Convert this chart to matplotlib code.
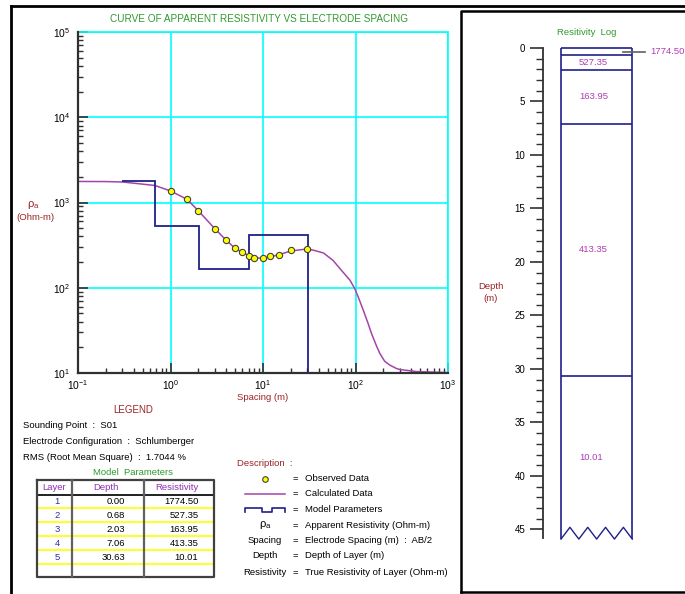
import matplotlib
matplotlib.use("Agg")
import matplotlib.pyplot as plt
import numpy as np
from matplotlib.ticker import LogLocator, NullFormatter, MultipleLocator

plt.rcParams["font.family"] = ["Liberation Sans", "DejaVu Sans"]

# observed sounding data (AB/2 in m, apparent resistivity in ohm-m)
spacing_obs = [1, 1.5, 2, 3, 4, 5, 6, 7, 8, 10, 12, 15, 20, 30]
rho_obs = [1360, 1094, 800, 495, 361, 290, 260, 238, 222, 222, 233, 245, 278, 283]

# calculated curve
spacing_calc = [0.1, 0.2, 0.3, 0.43, 0.68, 1.0, 1.5, 2, 3, 4, 5, 6, 7, 8, 10,
                12, 15, 20, 30, 35, 45, 57, 73, 87, 98, 107, 121, 137, 149,
                168, 183, 207, 234, 277, 300, 455, 1000]
rho_calc = [1765, 1760, 1740, 1671, 1583, 1365, 1094, 800, 495, 361, 290, 260,
            238, 224, 222, 230, 245, 270, 285, 276, 256, 210, 153, 123, 98,
            78, 55, 38, 29, 21, 17, 13.7, 12.4, 11.3, 11.0, 10.4, 10.1]

# model parameters
layer_no = [1, 2, 3, 4, 5]
layer_depth = [0.00, 0.68, 2.03, 7.06, 30.63]
layer_res = [1774.50, 527.35, 163.95, 413.35, 10.01]
model_start = 0.3
spacing_max = 1000
log_bottom = 45.9

sounding_point = "S01"
configuration = "Schlumberger"
rms = 1.7044

W, H = 685, 594
GREEN = "#2f9a2f"
DARKRED = "#9b2323"
NAVY = "#202088"
PURPLE = "#a345a8"
MAGENTA = "#b03cb4"
CYAN = "#00ffff"
DARK = "#303030"


def box(l, t, r, b):
    return [l / W, 1 - b / H, (r - l) / W, (b - t) / H]


fig = plt.figure(figsize=(W / 100, H / 100), dpi=100)

# ---- sounding curve ----
ax = fig.add_axes(box(78, 32, 448, 373))
ax.set_xscale("log")
ax.set_yscale("log")
ax.set_xlim(0.1, spacing_max)
ax.set_ylim(10, 1e5)
ax.grid(True, which="major", color=CYAN, lw=1.2)
ax.grid(False, which="minor")
for s in ["top", "right"]:
    ax.spines[s].set_color(CYAN)
    ax.spines[s].set_linewidth(1.2)
for s in ["left", "bottom"]:
    ax.spines[s].set_color(DARK)
    ax.spines[s].set_linewidth(1.6)
    ax.spines[s].set_zorder(6)
for a in (ax.xaxis, ax.yaxis):
    a.set_major_locator(LogLocator(base=10))
    a.set_minor_locator(LogLocator(base=10, subs=range(2, 10)))
    a.set_minor_formatter(NullFormatter())
ax.tick_params(which="both", direction="in", color=DARK, labelsize=7.4,
               top=False, right=False)
ax.tick_params(which="major", length=7.5, width=1.2)
ax.tick_params(which="minor", length=3.8, width=1.0)
ax.tick_params(axis="y", pad=5.5)
ax.tick_params(axis="x", pad=3.5)

ax.plot(spacing_calc, rho_calc, color=PURPLE, lw=1.1, zorder=3)
edges = [model_start] + layer_depth[1:] + [spacing_max]
ax.stairs(layer_res, edges, baseline=None, color=NAVY, lw=1.3, zorder=4)
ax.plot(spacing_obs, rho_obs, "o", mfc="#ffff00", mec="#404040", ms=4.5,
        mew=0.8, zorder=5)

# ---- resistivity log ----
lg = fig.add_axes(box(543.3, 48, 685, 538))
lg.set_xlim(0, 1)
lg.set_ylim(log_bottom - 0.1, 0)
for s in ["top", "right", "bottom"]:
    lg.spines[s].set_visible(False)
lg.spines["left"].set_color(DARK)
lg.spines["left"].set_linewidth(1.3)
lg.set_xticks([])
lg.yaxis.set_major_locator(MultipleLocator(5))
lg.yaxis.set_minor_locator(MultipleLocator(1))
lg.tick_params(axis="y", which="major", length=9.5, width=1.2, color=DARK,
               labelsize=7, pad=3.5)
lg.tick_params(axis="y", which="minor", length=5, width=1.0, color=DARK)
lg.patch.set_alpha(0)

x_l, x_r = 0.125, 0.628
lg.vlines([x_l, x_r], 0, log_bottom, color=NAVY, lw=1.2, clip_on=False)
lg.hlines(layer_depth, x_l, x_r, color=NAVY, lw=1.2, clip_on=False)
zx = np.linspace(x_l, x_r, 9)
zy = [log_bottom if i % 2 == 0 else log_bottom - 1.1 for i in range(9)]
lg.plot(zx, zy, color=NAVY, lw=1.0, clip_on=False)

bottoms = layer_depth[1:] + [log_bottom]
for top, bot, res in zip(layer_depth, bottoms, layer_res):
    mid = (top + bot) / 2
    if bot - top < 1.0:
        lg.plot([0.56, 0.716], [mid, mid], color="#606060", lw=1.2,
                clip_on=False)
        lg.text(0.755, mid, f"{res:.2f}", color=MAGENTA, fontsize=6.8,
                va="center", ha="left", clip_on=False)
    else:
        lg.text(0.252, mid, f"{res:.2f}", color=MAGENTA, fontsize=6.8,
                va="center", ha="left")

# ---- overlay: frames, texts, legend, table ----
ov = fig.add_axes([0, 0, 1, 1])
ov.set_xlim(0, W)
ov.set_ylim(H, 0)
ov.axis("off")
ov.patch.set_alpha(0)

ov.plot([11.5, 11.5], [6, H], color="black", lw=2)
ov.plot([11, W], [6, 6], color="black", lw=2)
ov.plot([461, 461, W + 5], [591.7, 10.5, 10.5], color="black", lw=1.8)
ov.plot([461, W + 5], [591.7, 591.7], color="black", lw=1.8)

fs = 6.8
ov.text(259, 19, "CURVE OF APPARENT RESISTIVITY VS ELECTRODE SPACING",
        color=GREEN, fontsize=7.2, ha="center", va="center")
ov.text(263, 397, "Spacing (m)", color=DARKRED, fontsize=fs,
        ha="center", va="center")
ov.text(33, 205, "ρ$_\\mathregular{a}$", color=DARKRED, fontsize=8,
        ha="center", va="center")
ov.text(35, 217, "(Ohm-m)", color=DARKRED, fontsize=fs,
        ha="center", va="center")

ov.text(586.7, 32.7, "Resitivity  Log", color=GREEN, fontsize=fs,
        ha="center", va="center")
ov.text(490.7, 286.7, "Depth", color=DARKRED, fontsize=fs,
        ha="center", va="center")
ov.text(490.7, 298.3, "(m)", color=DARKRED, fontsize=fs,
        ha="center", va="center")

ov.text(133, 410, "LEGEND", color=DARKRED, fontsize=7, ha="center",
        va="center")
info = [f"Sounding Point  :  {sounding_point}",
        f"Electrode Configuration  :  {configuration}",
        f"RMS (Root Mean Square)  :  {rms:.4f} %"]
for i, line in enumerate(info):
    ov.text(22.7, 426 + i * 15.5, line, color="black", fontsize=fs,
            ha="left", va="center")
ov.text(133, 472.7, "Model  Parameters", color=GREEN, fontsize=fs,
        ha="center", va="center")

# table
tl, tr, tt = 36.7, 214.3, 480
c1, c2 = 71.7, 144
head_h, row_h = 15, 14
n_rows = len(layer_no) + 1
tb = tt + head_h + row_h * n_rows - 2.3
for k in range(len(layer_no)):
    y = tt + head_h + row_h * (k + 1) - 0.7
    ov.plot([tl, tr], [y, y], color="#ffff00", lw=1.2)
ov.plot([tl, tr], [tt + head_h, tt + head_h], color="#202020", lw=1.4)
ov.plot([tl, tr, tr, tl, tl], [tt, tt, tb, tb, tt], color="#404040", lw=1.6)
ov.plot([c1, c1], [tt, tb], color="#606060", lw=1.6)
ov.plot([c2, c2], [tt, tb], color="#606060", lw=1.6)
hy = tt + 7.7
ov.text(54.3, hy, "Layer", color="#9030b0", fontsize=fs, ha="center",
        va="center")
ov.text(106, hy, "Depth", color="#9030b0", fontsize=fs, ha="center",
        va="center")
ov.text(177.3, hy, "Resistivity", color="#9030b0", fontsize=fs,
        ha="center", va="center")
for k, (n, d, r) in enumerate(zip(layer_no, layer_depth, layer_res)):
    y = tt + head_h + row_h * k + 6.7
    ov.text(57, y, str(n), color="#3030a0", fontsize=fs, ha="center",
            va="center")
    ov.text(125, y, f"{d:.2f}", color="black", fontsize=fs, ha="right",
            va="center")
    ov.text(198.3, y, f"{r:.2f}", color="black", fontsize=fs, ha="right",
            va="center")

# description
ov.text(236.7, 463.3, "Description  :", color=DARKRED, fontsize=fs,
        ha="left", va="center")
desc_sym = ["", "", "", "ρ$_\\mathregular{a}$", "Spacing", "Depth",
            "Resistivity"]
desc_txt = ["Observed Data", "Calculated Data", "Model Parameters",
            "Apparent Resistivity (Ohm-m)", "Electrode Spacing (m)  :  AB/2",
            "Depth of Layer (m)", "True Resistivity of Layer (Ohm-m)"]
desc_y = [478.7, 494, 509.7, 525.3, 540.7, 556, 572.7]
for sym, txt, y in zip(desc_sym, desc_txt, desc_y):
    ov.text(295, y, "=", color="black", fontsize=fs, ha="center",
            va="center")
    ov.text(305, y, txt, color="black", fontsize=fs, ha="left",
            va="center")
    if sym:
        ov.text(265, y, sym, color="black", fontsize=8 if "ρ" in sym else fs,
                ha="center", va="center")
ov.plot([265], [desc_y[0]], "o", mfc="#ffff00", mec="#404040", ms=4,
        mew=0.8)
ov.plot([245, 285], [desc_y[1], desc_y[1]], color=PURPLE, lw=1.1)
yt, yb = desc_y[2] - 2, desc_y[2] + 2
ov.plot([245, 245, 261.7, 261.7, 271.7, 271.7, 285, 285],
        [yb, yt, yt, yb, yb, yt, yt, yb], color=NAVY, lw=1.2)

fig.savefig("out.png", dpi=100)
